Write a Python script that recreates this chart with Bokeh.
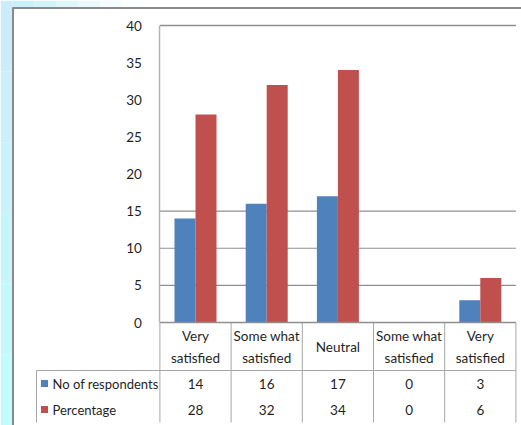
from bokeh.plotting import figure
from bokeh.models import Range1d, LinearAxis, FixedTicker
from bokeh.core.properties import value
from bokeh.embed import file_html
from bokeh.resources import INLINE

# ---- data -------------------------------------------------------------
categories = ["Very\nsatisfied", "Some what\nsatisfied", "Neutral",
              "Some what\nsatisfied", "Very\nsatisfied"]
respondents = [14, 16, 17, 0, 3]
percentage = [28, 32, 34, 0, 6]
series_names = ["No of respondents", "Percentage"]
y_ticks = [0, 5, 10, 15, 20, 25, 30, 35, 40]
grid_values = [5, 10, 15]

BLUE = "#4F81BD"
RED = "#C0504D"
TEXT = "#1f1f1f"
FONT = "Lato"
FSIZE = "13.5px"

W, H = 521, 425
# category centre spacing and value scale of the plot frame
COL_W = 71.2
X0_PX = 195.0
Y0_PX = 322.0
PX_PER_UNIT = 7.425


def X(px):
    return (px - X0_PX) / COL_W


def Y(py):
    return (Y0_PX - py) / PX_PER_UNIT


p = figure(width=W, height=H, output_backend="svg", toolbar_location=None,
           x_range=Range1d(X(0), X(W)), y_range=Range1d(Y(H), Y(0)),
           x_axis_location=None, y_axis_location=None,
           min_border=0, outline_line_color=None)
p.grid.visible = False
p.background_fill_color = "white"
p.border_fill_color = "white"

# ---- page background: soft cyan edges and gray frame ------------------
left_cols = ["#cdecfb", "#cbeffb", "#c9f2fc", "#c6f5fc", "#c3f9fd", "#c1fcfd"]
n = len(left_cols)
for i, c in enumerate(left_cols):
    p.quad(left=X(0), right=X(12), top=Y(H * i / n), bottom=Y(H * (i + 1) / n),
           fill_color=c, line_color=None)
top_cols = ["#c9f0fb", "#d3f3fc", "#def6fc", "#e9f9fd", "#f3fcfe", "#fbfeff"]
for i, c in enumerate(top_cols):
    p.quad(left=X(12 + i * 22), right=X(12 + (i + 1) * 22), top=Y(0), bottom=Y(7),
           fill_color=c, line_color=None)
p.segment(x0=[X(12.5), X(12)], y0=[Y(7), Y(7.5)], x1=[X(12.5), X(W)], y1=[Y(H), Y(7.5)],
          line_color="#8a8a8a", line_width=2)

# ---- plot area ---------------------------------------------------------
p.segment(x0=-0.5, y0=y_ticks[-1], x1=4.5, y1=y_ticks[-1], line_color="#8f8f8f", line_width=1.5)
p.segment(x0=[-0.5] * len(grid_values), y0=grid_values, x1=[4.5] * len(grid_values),
          y1=grid_values, line_color="#8f8f8f", line_width=1.2)

idx = list(range(len(categories)))
bar_w = 0.295
p.vbar(x=[i - bar_w / 2 for i in idx], top=respondents, bottom=0, width=bar_w,
       fill_color=BLUE, line_color=None)
p.vbar(x=[i + bar_w / 2 for i in idx], top=percentage, bottom=0, width=bar_w,
       fill_color=RED, line_color=None)

# value axis
yax = LinearAxis(ticker=FixedTicker(ticks=y_ticks), fixed_location=-0.5,
                 bounds=(y_ticks[0], y_ticks[-1]))
yax.axis_line_color = "#b5b5b5"
yax.axis_line_width = 1.5
yax.major_tick_line_color = None
yax.minor_tick_line_color = None
yax.major_label_standoff = 12
yax.major_label_text_font = FONT
yax.major_label_text_font_size = FSIZE
yax.major_label_text_color = TEXT
p.add_layout(yax, "left")

# ---- data table under the plot ----------------------------------------
line_col = "#a6a6a6"
bounds_x = [i - 0.5 for i in range(len(categories) + 1)]
p.segment(x0=bounds_x, y0=[0] * len(bounds_x), x1=bounds_x, y1=[Y(422)] * len(bounds_x),
          line_color=line_col, line_width=1)
p.segment(x0=[-0.5, X(36)], y0=[0, Y(370)], x1=[4.5, 4.5], y1=[0, Y(370)],
          line_color=["#8f8f8f", line_col], line_width=[1.5, 1])
p.segment(x0=X(36), y0=Y(370), x1=X(36), y1=Y(422), line_color=line_col, line_width=1)

p.text(x=idx, y=[Y(346.5)] * len(idx), text=categories, text_align="center",
       text_baseline="middle", text_font=value(FONT), text_font_size=FSIZE,
       text_color=TEXT, text_line_height=1.4)

row_y = [Y(383), Y(409)]
p.text(x=idx, y=[row_y[0]] * len(idx), text=[str(v) for v in respondents],
       text_align="center", text_baseline="middle", text_font=value(FONT),
       text_font_size=FSIZE, text_color=TEXT)
p.text(x=idx, y=[row_y[1]] * len(idx), text=[str(v) for v in percentage],
       text_align="center", text_baseline="middle", text_font=value(FONT),
       text_font_size=FSIZE, text_color=TEXT)

p.scatter(x=[X(44), X(44)], y=row_y, marker="square", size=7,
          fill_color=[BLUE, RED], line_color=None)
p.text(x=[X(52), X(52)], y=row_y, text=series_names, text_align="left",
       text_baseline="middle", text_font=value(FONT), text_font_size="13px",
       text_color=TEXT)

open("out.html", "w").write(file_html(p, INLINE))
